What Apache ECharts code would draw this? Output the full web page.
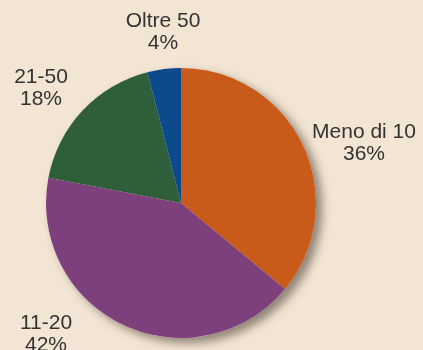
<!DOCTYPE html>
<html>
<head>
<meta charset="utf-8">
<script src="https://cdn.jsdelivr.net/npm/echarts@6/dist/echarts.min.js"></script>
<style>
  html, body { margin: 0; padding: 0; background: #f3e5d3; }
  #chart { width: 423px; height: 350px; }
</style>
</head>
<body>
<div id="chart"></div>
<script>
// Quote per classe (percentuali)
const categories = ['Meno di 10', '11-20', '21-50', 'Oltre 50'];
const values = [36, 42, 18, 4];
const colors = ['#c85b1a', '#7e3f7d', '#2f5e3b', '#0b4a8b'];

// Label anchor points (centre of each two-line label)
const labelSpots = [[364, 143], [46, 334], [41, 88], [163, 32]];

const chart = echarts.init(document.getElementById('chart'));
chart.setOption({
  backgroundColor: '#f3e5d3',
  animation: false,
  series: [
    {
      // soft drop shadow under the whole pie
      type: 'pie',
      silent: true,
      center: [181, 203],
      radius: 135,
      label: { show: false },
      labelLine: { show: false },
      itemStyle: {
        color: '#f3e5d3',
        shadowBlur: 10,
        shadowOffsetX: 6,
        shadowOffsetY: 5,
        shadowColor: 'rgba(60,50,40,0.55)'
      },
      data: [{ value: 1 }]
    },
    {
      type: 'pie',
      center: [181, 203],
      radius: 135,
      startAngle: 90,
      clockwise: true,
      itemStyle: { borderWidth: 0 },
      label: {
        show: true,
        position: 'outside',
        overflow: 'none',
        edgeDistance: 0,
        bleedMargin: 0,
        formatter: p => p.name + '\n' + p.value + '%',
        fontFamily: 'Liberation Sans, Arial, sans-serif',
        fontSize: 21,
        lineHeight: 22,
        color: '#333333',
        align: 'center'
      },
      labelLine: { show: false },
      labelLayout: p => ({
        x: labelSpots[p.dataIndex][0],
        y: labelSpots[p.dataIndex][1],
        align: 'center',
        verticalAlign: 'middle'
      }),
      data: categories.map((c, i) => ({
        name: c,
        value: values[i],
        itemStyle: { color: colors[i] }
      }))
    }
  ]
});
</script>
</body>
</html>
